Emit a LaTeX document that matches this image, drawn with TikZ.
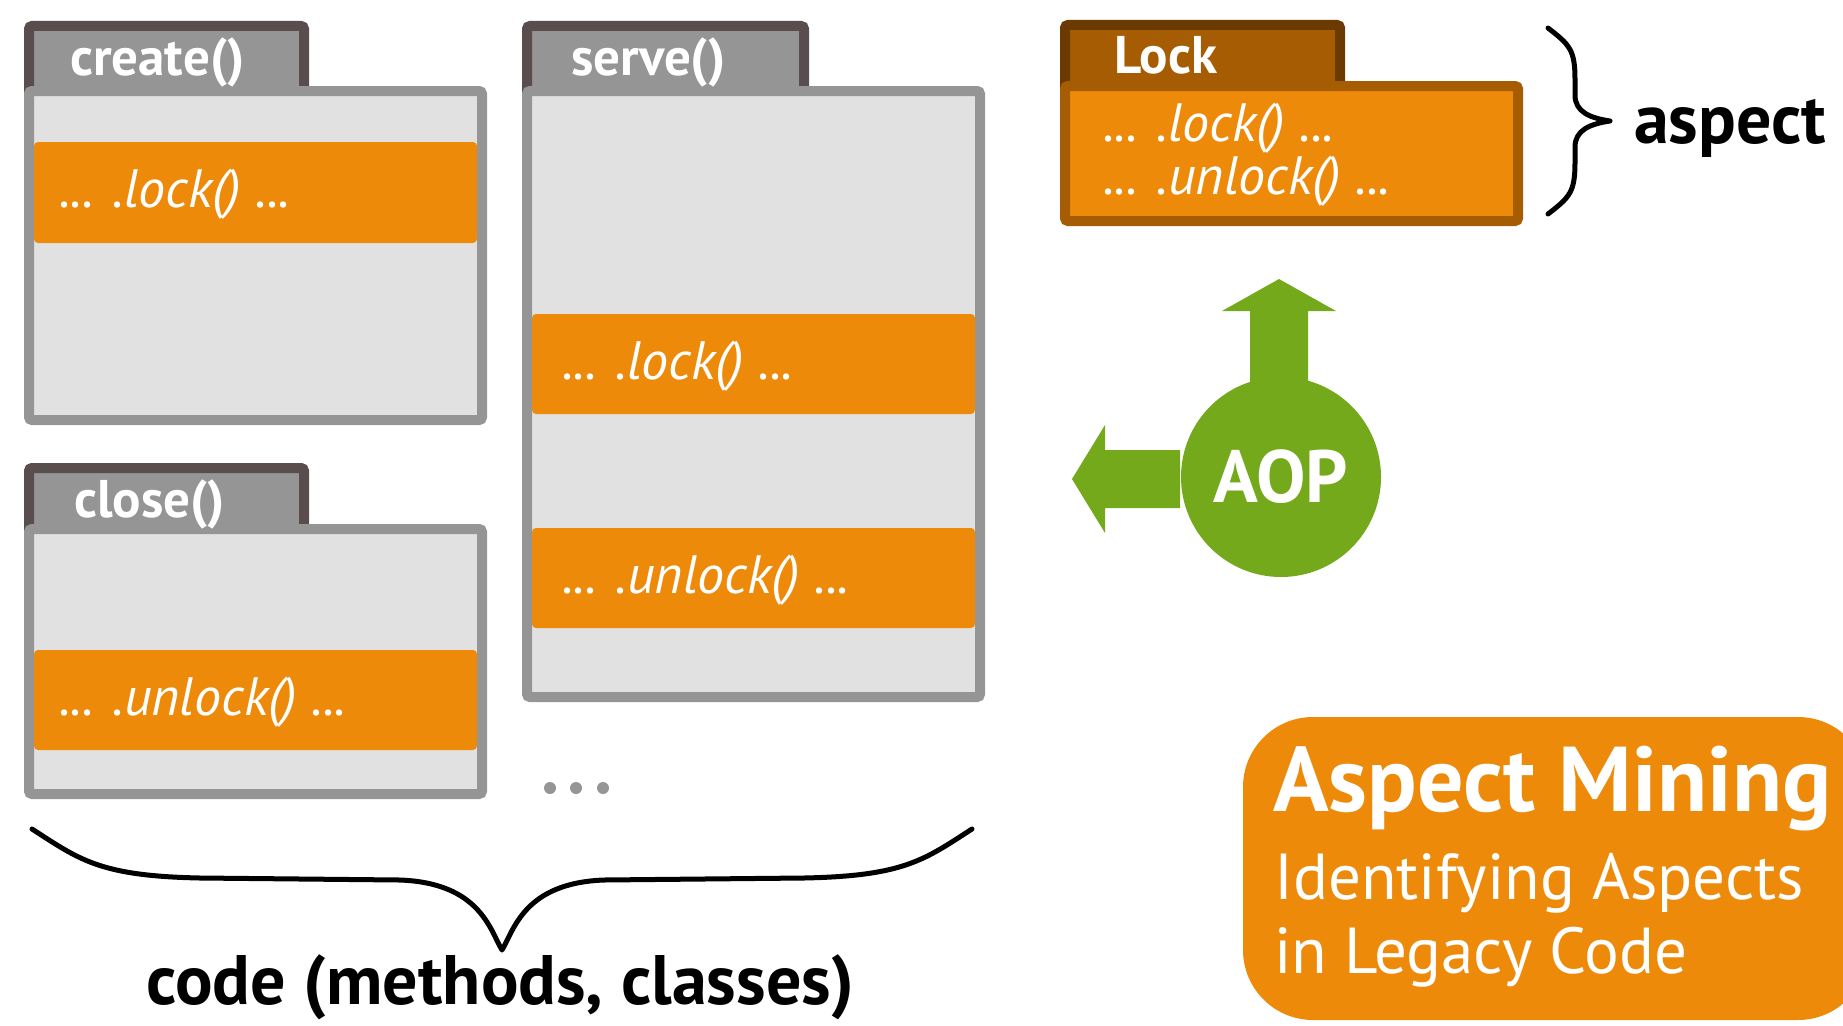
\documentclass[tikz,border=0pt]{standalone}
\usepackage{fontspec}
\setmainfont{PT Sans}
\definecolor{tabedge}{HTML}{594D4D}
\definecolor{boxgray}{HTML}{959595}
\definecolor{boxfill}{HTML}{E1E1E1}
\definecolor{callorange}{HTML}{EE8A0A}
\definecolor{lockbrown}{HTML}{A65C02}
\definecolor{lockdark}{HTML}{6B3A03}
\definecolor{aopgreen}{HTML}{73A91B}
\tikzset{
  tabshape/.style={draw=tabedge, fill=boxgray, line width=10pt, rounded corners=3pt},
  bodyshape/.style={draw=boxgray, fill=boxfill, line width=10pt, rounded corners=3pt},
  callbar/.style={fill=callorange, rounded corners=4pt},
  tablabel/.style={anchor=base west, text=white, inner sep=0pt, font=\fontsize{53}{58}\selectfont\bfseries},
  calltext/.style={anchor=base west, text=white, inner sep=0pt, font=\fontsize{54}{60}\selectfont\itshape},
  bigtext/.style={inner sep=0pt, font=\fontsize{70}{76}\selectfont\bfseries},
  bracestroke/.style={line width=5pt, line cap=round, line join=round},
}

\begin{document}
\begin{tikzpicture}[x=1pt, y=-1pt]
\useasboundingbox (0,0) rectangle (1843,1025);
% create()
\draw[tabshape] (29,26) rectangle (304,100);
\draw[bodyshape] (29,91) rectangle (482,420);
\fill[callbar] (34,142) rectangle (477,243);
\node[tablabel] (createlbl) at (70,75) {create()};
\node[calltext] (createlock) at (59,207) {... .lock() ...};
% serve()
\draw[tabshape] (527,26) rectangle (804,100);
\draw[bodyshape] (527,91) rectangle (980,697);
\fill[callbar] (532,314) rectangle (975,414);
\fill[callbar] (532,528) rectangle (975,628);
\node[tablabel] (servelbl) at (571,75) {serve()};
\node[calltext] (servelock) at (562,379) {... .lock() ...};
\node[calltext] (serveunlock) at (562,593) {... .unlock() ...};
% close()
\draw[tabshape] (29,468) rectangle (304,540);
\draw[bodyshape] (29,529) rectangle (482,794);
\fill[callbar] (34,650) rectangle (477,750);
\node[tablabel] (closelbl) at (74,517) {close()};
\node[calltext] (closeunlock) at (59,715) {... .unlock() ...};
% more methods
\fill[boxgray] (550,788) circle [radius=6pt];
\fill[boxgray] (576,788) circle [radius=6pt];
\fill[boxgray] (603,788) circle [radius=6pt];
% brace under the code
\draw[bracestroke] (32,829) .. controls (80,860) and (100,876) .. (200,878)
  -- (400,880) .. controls (480,883) and (490,930) .. (502,950)
  .. controls (514,930) and (524,883) .. (604,880)
  -- (804,878) .. controls (904,876) and (924,860) .. (972,829);
\node[bigtext, anchor=base] (codelbl) at (500,1004) {code (methods, classes)};
% Lock aspect
\draw[tabshape, draw=lockdark, fill=lockbrown] (1065,25) rectangle (1340,100);
\draw[bodyshape, draw=lockbrown, fill=callorange] (1065,86) rectangle (1518,221);
\node[tablabel] (locklbl) at (1114,74) {Lock};
\node[calltext] (asplock) at (1103,141) {... .lock() ...};
\node[calltext] (aspunlock) at (1103,194) {... .unlock() ...};
\draw[bracestroke] (1548,28) .. controls (1570,45) and (1575,50) .. (1575,80)
  -- (1575,95) .. controls (1575,112) and (1590,118) .. (1610,121)
  .. controls (1590,124) and (1575,130) .. (1575,147)
  -- (1575,162) .. controls (1575,192) and (1570,197) .. (1548,214);
\node[bigtext, anchor=base west] (aspectlbl) at (1634,143) {aspect};
% AOP weaving
\fill[aopgreen] (1250,420) -- (1250,311) -- (1222,311) -- (1279,279) -- (1336,311)
  -- (1308,311) -- (1308,420) -- cycle;
\fill[aopgreen] (1180,450) -- (1105,450) -- (1105,425) -- (1072,479) -- (1105,533)
  -- (1105,508) -- (1180,508) -- cycle;
\node[circle, fill=aopgreen, minimum size=200pt, inner sep=0pt, text=white,
  font=\fontsize{74}{80}\selectfont\bfseries] (aop) at (1281,477) {AOP};
% title box
\begin{scope}
\clip (0,0) rectangle (1843,1025);
\fill[callorange, rounded corners=70pt] (1243,717) rectangle (1868,1020);
\end{scope}
\node[anchor=base west, inner sep=0pt, text=white, font=\fontsize{92}{98}\selectfont\bfseries] (title) at (1273,811) {Aspect Mining};
\node[anchor=base west, inner sep=0pt, text=white, font=\fontsize{65}{70}\selectfont] (subtitleA) at (1274,899) {Identifying Aspects};
\node[anchor=base west, inner sep=0pt, text=white, font=\fontsize{65}{70}\selectfont] (subtitleB) at (1274,973) {in Legacy Code};
\end{tikzpicture}
\end{document}
